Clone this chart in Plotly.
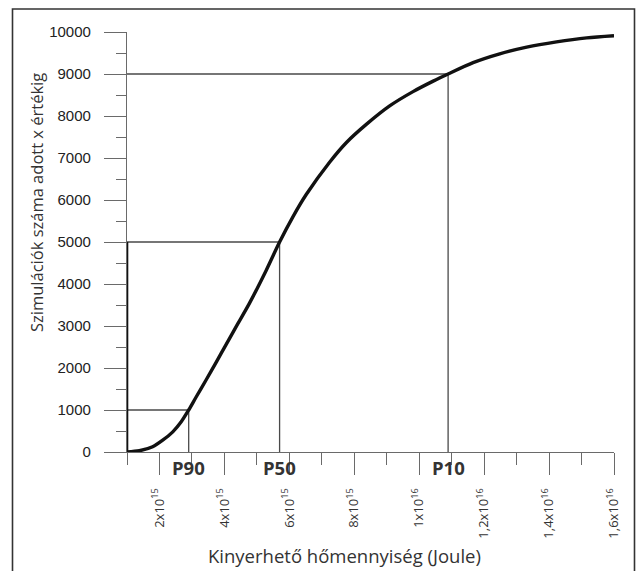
import plotly.graph_objects as go

# Cumulative simulation count versus recoverable heat (Joule)
energy = [1.0e15, 1.38e15, 1.79e15, 2.10e15, 2.41e15, 2.67e15, 2.90e15, 3.13e15,
          3.44e15, 3.75e15, 4.06e15, 4.41e15, 4.77e15, 5.29e15, 5.70e15, 6.11e15,
          6.52e15, 7.24e15, 7.76e15, 8.37e15, 9.09e15, 9.81e15, 1.043e16,
          1.089e16, 1.166e16, 1.248e16, 1.331e16, 1.423e16, 1.516e16, 1.60e16]
runs = [0, 30, 125, 280, 480, 720, 1000, 1310, 1720, 2140, 2570, 3050, 3540, 4330,
        5000, 5600, 6130, 6900, 7370, 7800, 8240, 8580, 8830, 9000, 9270, 9480,
        9640, 9765, 9860, 9910]

# Percentile markers
pct_labels = ["P90", "P50", "P10"]
pct_energy = [2.9e15, 5.7e15, 1.089e16]
pct_runs = [1000, 5000, 9000]

x_tickvals = [2e15, 4e15, 6e15, 8e15, 1e16, 1.2e16, 1.4e16, 1.6e16]
x_ticktext = ["2x10<sup>15</sup>", "4x10<sup>15</sup>", "6x10<sup>15</sup>",
              "8x10<sup>15</sup>", "1x10<sup>16</sup>", "1,2x10<sup>16</sup>",
              "1,4x10<sup>16</sup>", "1,6x10<sup>16</sup>"]
x_minorvals = [1e15, 3e15, 5e15, 7e15, 9e15, 1.1e16, 1.3e16, 1.5e16]
y_tickvals = list(range(0, 10001, 1000))
y_ticktext = [str(v) for v in y_tickvals]

W, H = 637, 571
ML, MR, MT, MB = 127, 23, 32, 119
x_min, x_max = 1e15, 1.6e16
plot_w = W - ML - MR
plot_h = H - MT - MB


def px_to_paper_x(px):
    return (px - ML) / plot_w


def px_to_paper_y(py):
    return (H - MB - py) / plot_h


fig = go.Figure()

# guide lines from the y axis to each percentile and down to the x axis
for p, r in zip(pct_energy, pct_runs):
    fig.add_trace(go.Scatter(x=[x_min, p, p], y=[r, r, 0], mode="lines",
                             line=dict(color="#4a4a4a", width=1.3),
                             hoverinfo="skip", showlegend=False))

# heavier segment along the axis up to the median level
fig.add_trace(go.Scatter(x=[x_min, x_min], y=[0, pct_runs[1]], mode="lines",
                         line=dict(color="#111111", width=2.6),
                         hoverinfo="skip", showlegend=False))

fig.add_trace(go.Scatter(x=energy, y=runs, mode="lines",
                         line=dict(color="#111111", width=3.4, shape="spline",
                                   smoothing=0.8),
                         showlegend=False))

for lab, p in zip(pct_labels, pct_energy):
    fig.add_annotation(x=p, y=0, xref="x", yref="y", text="<b>%s</b>" % lab,
                       showarrow=False, yanchor="middle", yshift=-15,
                       font=dict(family="Open Sans", size=18.5, color="#333333"))

# axis titles
fig.add_annotation(x=px_to_paper_x(344), y=px_to_paper_y(555), xref="paper",
                   yref="paper", text="Kinyerhető hőmennyiség (Joule)",
                   showarrow=False, xanchor="center", yanchor="middle",
                   font=dict(family="Open Sans", size=18.5, color="#333333"))
fig.add_annotation(x=px_to_paper_x(36), y=px_to_paper_y(203), xref="paper",
                   yref="paper", text="Szimulációk száma adott x értékig",
                   showarrow=False, textangle=-90, xanchor="center",
                   yanchor="middle",
                   font=dict(family="Open Sans", size=16.5, color="#333333"))

# outer frame
fig.add_shape(type="rect", xref="paper", yref="paper",
              x0=px_to_paper_x(12.5), x1=px_to_paper_x(634.5),
              y0=px_to_paper_y(580), y1=px_to_paper_y(9),
              line=dict(color="#333333", width=1.6), fillcolor="rgba(0,0,0,0)",
              layer="below")

axis_col = "#6a6a6a"
fig.update_layout(
    width=W, height=H, template="none",
    margin=dict(l=ML, r=MR, t=MT, b=MB),
    paper_bgcolor="white", plot_bgcolor="white",
    xaxis=dict(range=[x_min, x_max], tickmode="array", tickvals=x_tickvals,
               ticktext=x_ticktext, tickangle=-90, ticks="outside", ticklen=22,
               tickwidth=1.2, tickcolor=axis_col, showline=True, linecolor=axis_col,
               linewidth=1.3, showgrid=False, zeroline=False, automargin=False,
               ticklabelstandoff=8,
               tickfont=dict(family="Open Sans", size=13, color="#333333"),
               minor=dict(tickmode="array", tickvals=x_minorvals, ticks="outside",
                          ticklen=12, tickwidth=1.2, tickcolor=axis_col,
                          showgrid=False)),
    yaxis=dict(range=[0, 10000], tickmode="array", tickvals=y_tickvals,
               ticktext=y_ticktext,
               ticks="outside", ticklen=22, tickwidth=1.2, tickcolor=axis_col,
               showline=True, linecolor=axis_col, linewidth=1.3, showgrid=False,
               zeroline=False, automargin=False, ticklabelstandoff=10,
               tickfont=dict(family="Liberation Sans", size=15, color="#222222"),
               minor=dict(dtick=500, tick0=0, ticks="outside", ticklen=10,
                          tickwidth=1.2, tickcolor=axis_col, showgrid=False)),
)

fig.write_html("out.html")
